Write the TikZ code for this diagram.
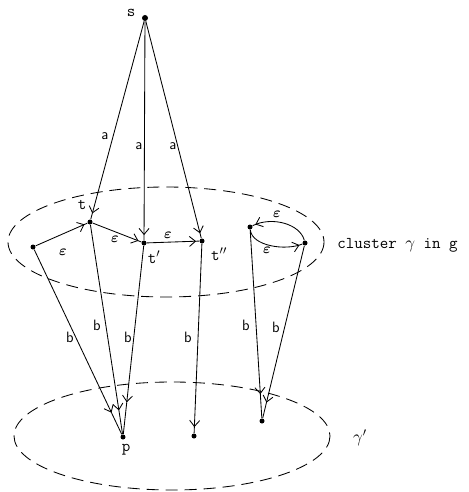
\documentclass[tikz,border=0pt]{standalone}
\usepackage{amsmath}
\usetikzlibrary{arrows.meta,decorations.markings}

\tikzset{
  dot/.style={circle,fill,inner sep=0pt,minimum size=5pt},
  vtxname/.style={inner sep=0pt,font=\ttfamily\fontsize{16.5}{19}\selectfont},
  edgelbl/.style={inner sep=0pt,font=\sffamily\fontsize{15}{17}\selectfont},
  clusterline/.style={dash pattern=on 12pt off 7pt},
  tipat/.style={postaction={decorate},decoration={markings,
      mark=at position #1 with {\arrow{Straight Barb[length=6pt,width=10pt]}}}},
}

\begin{document}
\begin{tikzpicture}[x=1pt,y=-1pt,line width=0.85pt]
  \useasboundingbox (0,0) rectangle (468,492);

  % the two clusters
  \draw[clusterline] (166,242) ellipse [x radius=158, y radius=55];
  \draw[clusterline] (172,436) ellipse [x radius=158, y radius=54];

  % states
  \node[dot,minimum size=6pt] (s) at (145,18) {};
  \node[dot] (t)  at (90,222) {};
  \node[dot] (u)  at (33,247) {};
  \node[dot] (t1) at (144,243) {};
  \node[dot] (t2) at (202,241) {};
  \node[dot] (c1) at (250,227) {};
  \node[dot] (c2) at (305,243) {};
  \node[dot] (p)  at (123,437) {};
  \node[dot] (q)  at (194,436) {};
  \node[dot] (r)  at (262,421) {};

  \node[vtxname] (s-name)  at (131,13)  {s};
  \node[vtxname] (t-name)  at (82,205)  {t};
  \node[vtxname] (t1-name) at (154,257) {t$'$};
  \node[vtxname] (t2-name) at (219,254) {t$''$};
  \node[vtxname] (p-name)  at (126,450) {p};
  \node[vtxname,anchor=west] (gamma) at (337,245) {cluster $\gamma$ in g};
  \node[vtxname] (gamma1) at (360,438) {$\gamma'$};

  % a-moves
  \draw[tipat=-6pt] (s) -- (t);
  \draw[tipat=-5pt] (s) -- (t1);
  \draw[tipat=-5pt] (s) -- (t2);
  \node[edgelbl] (a1) at (105,136) {a};
  \node[edgelbl] (a2) at (139,146) {a};
  \node[edgelbl] (a3) at (173,146) {a};

  % epsilon-moves
  \draw[tipat=-3pt] (u) -- (t);
  \draw[tipat=-3pt] (t) -- (t1);
  \draw[tipat=-3pt] (t1) -- (t2);
  \draw[tipat=-3pt] (c1) .. controls (252,246) and (285,251) .. (c2);
  \draw[tipat=-3pt] (c2) .. controls (300,224) and (272,216) .. (c1);
  \node[edgelbl] (e1) at (63,252)  {$\boldsymbol{\varepsilon}$};
  \node[edgelbl] (e2) at (115,239) {$\boldsymbol{\varepsilon}$};
  \node[edgelbl] (e3) at (168,235) {$\boldsymbol{\varepsilon}$};
  \node[edgelbl] (e4) at (267,250) {$\boldsymbol{\varepsilon}$};
  \node[edgelbl] (e5) at (277,214) {$\boldsymbol{\varepsilon}$};

  % b-moves
  \draw[tipat=-24pt] (u)  -- (p);
  \draw[tipat=-24pt] (t)  -- (p);
  \draw[tipat=-32pt] (t1) -- (p);
  \draw[tipat=-6pt]  (t2) -- (q);
  \draw[tipat=-24pt] (c1) -- (r);
  \draw[tipat=-16pt] (c2) -- (r);
  \node[edgelbl] (b1) at (70,337)  {b};
  \node[edgelbl] (b2) at (97,325)  {b};
  \node[edgelbl] (b3) at (128,337) {b};
  \node[edgelbl] (b4) at (188,337) {b};
  \node[edgelbl] (b5) at (246,325) {b};
  \node[edgelbl] (b6) at (276,327) {b};
\end{tikzpicture}
\end{document}
